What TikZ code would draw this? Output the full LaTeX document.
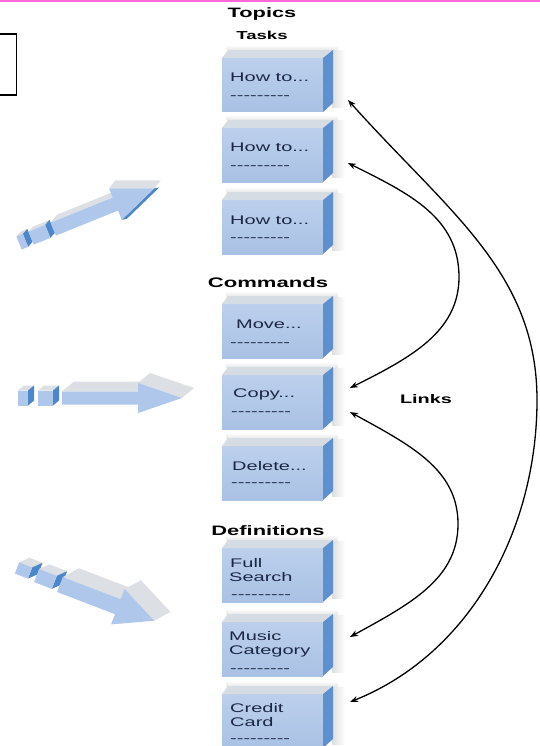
\documentclass[tikz,border=0pt]{standalone}
\usepackage{fontspec}
\newfontfamily\widesans[FakeStretch=1.6,Ligatures=TeXOff]{Liberation Sans}
\usetikzlibrary{arrows.meta}

\definecolor{frontlight}{HTML}{BCD0EC}
\definecolor{frontdark}{HTML}{A9C1E4}
\definecolor{boxtopc}{HTML}{D6DCE4}
\definecolor{boxsidec}{HTML}{5F90CE}
\definecolor{inktext}{HTML}{1B2744}
\definecolor{arrfrontc}{HTML}{AEC7EA}
\definecolor{arrtopc}{HTML}{DCDFE3}
\definecolor{arrsidec}{HTML}{4E86CA}
\definecolor{rulepink}{HTML}{FF66D9}

\tikzset{
  boxfront/.style={minimum width=101pt, minimum height=54pt, inner sep=0pt, outer sep=0pt,
    top color=frontlight, bottom color=frontdark},
  boxtop/.style={fill=boxtopc},
  boxside/.style={fill=boxsidec},
  boxtext/.style={inner sep=0pt, text=inktext, anchor=base west,
    font=\fontsize{12.5}{15}\selectfont\widesans},
  heading/.style={inner sep=0pt, anchor=base,
    font=\fontsize{#1}{#1}\selectfont\widesans\bfseries},
  link/.style={line width=1.3pt, {Stealth[length=8pt,width=6pt]}-{Stealth[length=8pt,width=6pt]}},
  arrfront/.style={fill=arrfrontc},
  arrtop/.style={fill=arrtopc},
  arrside/.style={fill=arrsidec},
}

\newcommand\dashrow{---------}

% a topic card: soft shadow, front face (named node), top face and side face
\newcommand\topicbox[2]{%
  \shade[left color=black!13, right color=white] (332,#2-7) rectangle (345,#2+50);
  \shade[top color=white, bottom color=black!9] (226,#2-13) rectangle (338,#2-8);
  \node[boxfront] (#1) at (272.5,#2+27) {};
  \fill[boxtop] (#1.north west) -- (#1.north east) -- ++(10,-8) -- ([shift={(6,-8)}]#1.north west) -- cycle;
  \fill[boxside] (#1.north east) -- ++(10,-8) -- ([shift={(10,-9)}]#1.south east) -- (#1.south east) -- cycle;
}

% block-arrow pieces in a local frame (x along the arrow); \aex,\aey = extrusion
\newcommand\arrseg[3]{%
  \fill[arrtop] (#1,-#3) -- (#2,-#3) -- (#2+\aex,-#3-\aey) -- (#1+\aex,-#3-\aey) -- cycle;
  \fill[arrside] (#2,-#3) -- (#2+\aex,-#3-\aey) -- (#2+\aex,#3-\aey) -- (#2,#3) -- cycle;
  \fill[arrfront] (#1,-#3) rectangle (#2,#3);
}
\newcommand\arrbody[5]{%
  \fill[arrtop] (#1,-#4) -- (#2,-#4) -- (#2+\aex,-#4-\aey) -- (#1+\aex,-#4-\aey) -- cycle;
  \fill[arrtop] (#2,-#5) -- (#3,0) -- (#3+\aex,-\aey) -- (#2+\aex,-#5-\aey) -- cycle;
  \fill[arrfront] (#1,-#4) -- (#2,-#4) -- (#2,-#5) -- (#3,0) -- (#2,#5) -- (#2,#4) -- (#1,#4) -- cycle;
}

\begin{document}
\begin{tikzpicture}[x=1pt,y=-1pt]
\useasboundingbox (0,0) rectangle (540,746);
\fill[white] (0,0) rectangle (540,746);

% top rule and the framed box at the left edge
\fill[rulepink] (0,0) rectangle (540,2.5);
\draw[line width=1.4pt] (-5,34) rectangle (16.5,95);

% task cards
\topicbox{b1}{58}
\node[boxtext] (t1) at ([shift={(8,24)}]b1.north west) {How to...};
\node[boxtext] (d1) at ([shift={(8,41.5)}]b1.north west) {\dashrow};
\topicbox{b2}{128}
\node[boxtext] (t2) at ([shift={(8,24)}]b2.north west) {How to...};
\node[boxtext] (d2) at ([shift={(8,41.5)}]b2.north west) {\dashrow};
\topicbox{b3}{200}
\node[boxtext] (t3) at ([shift={(8,24)}]b3.north west) {How to...};
\node[boxtext] (d3) at ([shift={(8,41.5)}]b3.north west) {\dashrow};

% command cards
\topicbox{b4}{304}
\node[boxtext] (t4) at ([shift={(14,24.5)}]b4.north west) {Move...};
\node[boxtext] (d4) at ([shift={(8,42.5)}]b4.north west) {\dashrow};
\topicbox{b5}{375}
\node[boxtext] (t5) at ([shift={(11,22)}]b5.north west) {Copy...};
\node[boxtext] (d5) at ([shift={(9,40.5)}]b5.north west) {\dashrow};
\topicbox{b6}{446}
\node[boxtext] (t6) at ([shift={(10,24.5)}]b6.north west) {Delete...};
\node[boxtext] (d6) at ([shift={(9,40.5)}]b6.north west) {\dashrow};

% definition cards
\topicbox{b7}{548}
\node[boxtext] (t7a) at ([shift={(8,19)}]b7.north west) {Full};
\node[boxtext] (t7b) at ([shift={(7,33)}]b7.north west) {Search};
\node[boxtext] (d7) at ([shift={(9,50)}]b7.north west) {\dashrow};
\topicbox{b8}{622}
\node[boxtext] (t8a) at ([shift={(7,18)}]b8.north west) {Music};
\node[boxtext] (t8b) at ([shift={(7,32)}]b8.north west) {Category};
\node[boxtext] (d8) at ([shift={(8,50)}]b8.north west) {\dashrow};
\topicbox{b9}{694}
\node[boxtext] (t9a) at ([shift={(8,18)}]b9.north west) {Credit};
\node[boxtext] (t9b) at ([shift={(8,32)}]b9.north west) {Card};
\node[boxtext] (d9) at ([shift={(8,48)}]b9.north west) {\dashrow};

% headings, over the card shadows
\node[heading=13.6] (topics) at (262,17.4) {Topics};
\node[heading=11.6] (tasks) at (262,40) {Tasks};
\node[heading=13.8] (commands) at (268,287) {Commands};
\node[heading=13.7] (definitions) at (268,535) {Definitions};
\node[heading=12.4] (links) at (426,403.5) {Links};

% links between cards
\draw[link] ([shift={(25,15)}]b1.east) .. controls (448,212) and (537,272) .. (537,400)
  .. controls (537,530) and (470,654) .. ([shift={(27,-19)}]b9.east);
\draw[link] ([shift={(25,8)}]b2.east) .. controls (408,193) and (459,217) .. (459,277)
  .. controls (459,332) and (410,358) .. ([shift={(27,-14)}]b5.east);
\draw[link] ([shift={(27,10)}]b5.east) .. controls (410,445) and (458,469) .. (458,524)
  .. controls (458,579) and (410,604) .. ([shift={(27,-12)}]b8.east);

% block arrow pointing up-right
\begin{scope}[shift={(19,243)}, rotate=22]
  \def\aex{6}\def\aey{3}
  \arrseg{0}{7}{7}
  \arrseg{13}{31}{7}
  \def\aex{9}\def\aey{5}
  \fill[arrside] (146,0) -- (104,17) -- (109,18) -- (151,1) -- cycle;
  \arrbody{37}{104}{146}{7}{17}
\end{scope}

% block arrow pointing right
\begin{scope}[shift={(18,398)}]
  \def\aex{6}\def\aey{5}
  \arrseg{0}{10}{7.5}
  \arrseg{20}{35}{7.5}
  \def\aex{12}\def\aey{10}
  \arrbody{44}{120}{164}{6.5}{15}
\end{scope}

% block arrow pointing down-right
\begin{scope}[shift={(17,568)}, rotate=-21]
  \def\aex{8}\def\aey{8}
  \arrseg{0}{14}{6}
  \arrseg{21}{40}{7}
  \def\aex{12}\def\aey{14}
  \arrbody{46}{108}{147}{8}{19}
\end{scope}
\end{tikzpicture}
\end{document}
